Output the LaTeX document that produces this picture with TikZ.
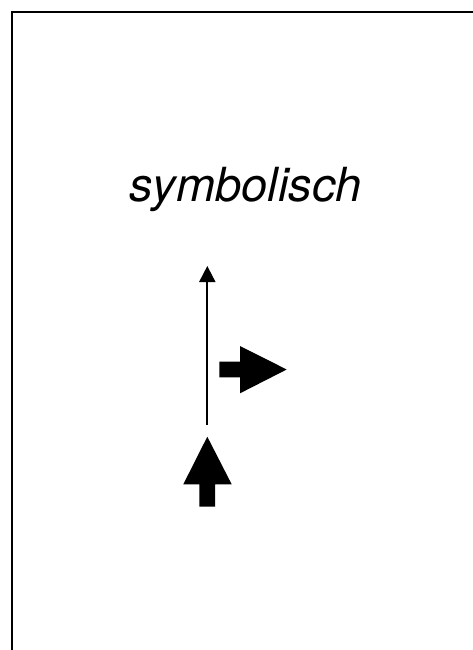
\documentclass[tikz,border=0pt]{standalone}
\usepackage{fontspec}
\setsansfont{TeX Gyre Heros}
\usepackage{tikz}
\usetikzlibrary{arrows.meta}

\begin{document}
\begin{tikzpicture}[x=1pt,y=-1pt,
  font=\sffamily\itshape\fontsize{47}{56}\selectfont,
  blockarrow/.style={fill=black,draw=none}]
\useasboundingbox (0,0) rectangle (473,650);
% frame, only top and left
\draw[line width=2.5pt] (11.8,650) -- (11.8,11.8) -- (473,11.8);
\node[anchor=base,inner sep=0pt] (titel) at (245.5,201.7) {symbolisch};
% thin arrow
\coordinate (unten) at (207.3,425);
\coordinate (oben) at (207.3,266);
\draw[line width=2pt,-{Triangle[width=16pt,length=16pt]}] (unten) -- (oben);
% block arrow to the right
\fill[blockarrow] (219.3,361.7) -- (240,361.7) -- (240,346) -- (286.7,369.5)
  -- (240,393.3) -- (240,377.3) -- (219.3,377.3) -- cycle;
% block arrow upwards
\fill[blockarrow] (199.3,506.7) -- (199.3,484.3) -- (183.3,484.3) -- (207.3,436.7)
  -- (231.7,484.3) -- (215,484.3) -- (215,506.7) -- cycle;
\end{tikzpicture}
\end{document}
